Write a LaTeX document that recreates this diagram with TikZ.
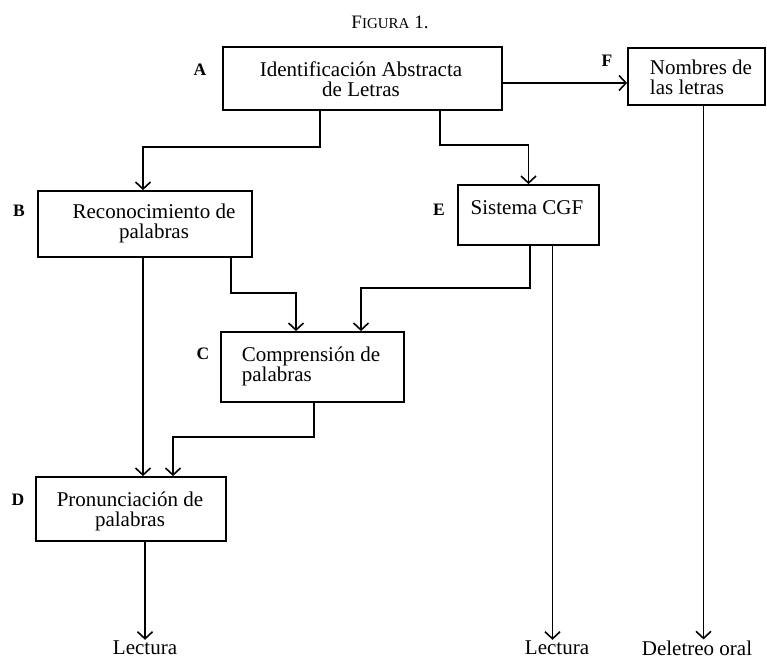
\documentclass[tikz,border=0pt]{standalone}
\usepackage{fontspec}
\setmainfont{Liberation Serif}
\usetikzlibrary{arrows.meta}
\begin{document}
\begin{tikzpicture}[x=1pt,y=-1pt,
  box/.style={draw, line width=1.8pt, inner sep=0pt},
  txt/.style={font=\fontsize{21}{20}\selectfont, inner sep=0pt},
  lab/.style={font=\fontsize{17.5}{17.5}\selectfont\bfseries, inner sep=0pt},
  arr/.style={line width=1.7pt, -{Straight Barb[length=7pt,width=15pt,line width=1.6pt]}},
  ttl/.style={inner sep=0pt}
]
\useasboundingbox (0,0) rectangle (767,659);

% title
\node[ttl] (T) at (390,22) {{\fontsize{19}{19}\selectfont F}{\fontsize{15}{15}\selectfont IGURA}{\fontsize{19}{19}\selectfont\ 1.}};

% boxes
\node[box, minimum width=279pt, minimum height=63pt] (A) at (362.5,78.5) {};
\node[box, minimum width=137pt, minimum height=57pt] (F) at (696.5,76.5) {};
\node[box, minimum width=214pt, minimum height=66pt] (B) at (145,224) {};
\node[box, minimum width=141pt, minimum height=60pt] (E) at (528.5,215) {};
\node[box, minimum width=183pt, minimum height=70pt] (C) at (312.5,367) {};
\node[box, minimum width=190pt, minimum height=64pt] (D) at (131,509) {};

% box texts
\node[txt, align=center] (At) at (361,79) {Identificación Abstracta\\de Letras};
\node[txt, align=left] (Ft) at (701,77) {Nombres de\\las letras};
\node[txt, align=center] (Bt) at (154,223) {Reconocimiento de\\palabras};
\node[txt] (Et) at (527,208) {Sistema CGF};
\node[txt, align=left] (Ct) at (311,366) {Comprensión de\\palabras};
\node[txt, align=center] (Dt) at (130,511) {Pronunciación de\\palabras};

% letter labels
\node[lab] (la) at (200,70) {A};
\node[lab] (lb) at (19,211) {B};
\node[lab] (lc) at (203,354) {C};
\node[lab] (ld) at (18,500) {D};
\node[lab] (le) at (439,210) {E};
\node[lab] (lf) at (607,61) {F};

% outputs
\node[txt, inner sep=1pt] (L1) at (145,648) {Lectura};
\node[txt, inner sep=1pt] (L2) at (557,648) {Lectura};
\node[txt, inner sep=1pt] (L3) at (697,648) {Deletreo oral};

% connectors
\draw[arr] ([yshift=-4.5pt]A.east) -- ([yshift=-4.5pt]A.east -| F.west);
\draw[arr] ([xshift=-42.5pt]A.south) -- ++(0,36) -| ([xshift=-2pt]B.north);
\draw[arr] ([xshift=77.5pt]A.south) -- ++(0,34) -| (E.north);
\draw[arr] ([xshift=86pt]B.south) -- ++(0,35) -| ([xshift=-16.5pt]C.north);
\draw[arr] ([xshift=1.5pt]E.south) -- ++(0,42) -| ([xshift=48.5pt]C.north);
\draw[arr] ([xshift=-2pt]B.south) -- ([xshift=-2pt]B.south |- D.north);
\draw[arr] ([xshift=1.5pt]C.south) -- ++(0,34) -| ([xshift=42pt]D.north);
\draw[arr] ([xshift=14pt]D.south) -- ([xshift=14pt]D.south |- L1.north);
\draw[arr] ([xshift=24pt]E.south) -- ([xshift=24pt]E.south |- L2.north);
\draw[arr] ([xshift=7pt]F.south) -- ([xshift=7pt]F.south |- L3.north);
\end{tikzpicture}
\end{document}
